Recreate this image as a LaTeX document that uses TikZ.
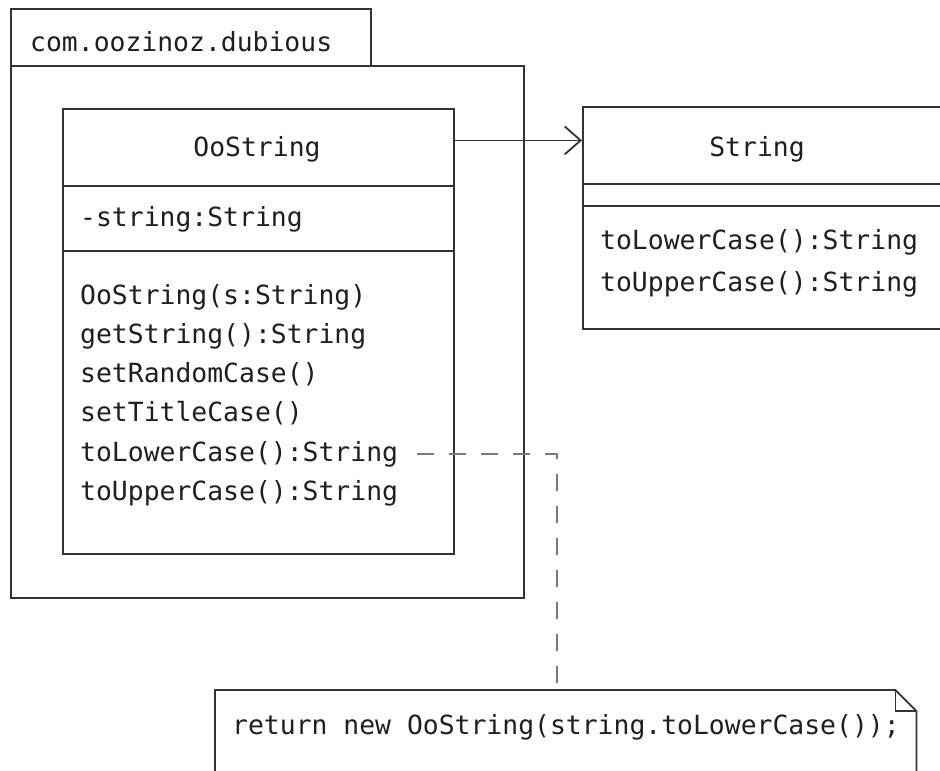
\documentclass[tikz,border=0pt]{standalone}
\usepackage{fontspec}
\newfontfamily\umlfont{DejaVu Sans Mono}
\usetikzlibrary{arrows.meta,calc}
\definecolor{linecol}{HTML}{333333}
\definecolor{dashcol}{HTML}{7A7A7A}
\begin{document}
\begin{tikzpicture}[x=1pt,y=-1pt,
  box/.style={draw=linecol, line width=1.8pt, inner sep=0pt, anchor=north west},
  holder/.style={inner sep=0pt, anchor=north west},
  edge/.style={draw=linecol, line width=1.8pt},
  dashline/.style={draw=dashcol, line width=1.8pt, dash pattern=on 17pt off 15pt},
  txt/.style={font=\umlfont\fontsize{26.4}{30}\selectfont, text=black!88, inner sep=0pt, anchor=base west}]
\useasboundingbox (0,0) rectangle (940,771);
\clip (0,0) rectangle (940,771);
\fill[white] (0,0) rectangle (940,771);

% package
\node[box, minimum width=360pt, minimum height=57pt] (pkgtab) at (10,8) {};
\node[box, minimum width=513pt, minimum height=532pt] (pkgbody) at (10,65) {};
\node[txt] (pkgname) at (30,51) {com.oozinoz.dubious};

% OoString class
\node[box, minimum width=391pt, minimum height=77pt] (ootitle) at (62,108) {};
\node[box, minimum width=391pt, minimum height=65pt] (ooattr) at (62,185) {};
\node[box, minimum width=391pt, minimum height=303pt] (ooops) at (62,250) {};
\node[txt, anchor=base] (ooname) at (257,156) {OoString};
\node[txt] (ooattr1) at (80,226) {-string:String};
\node[txt] (ooop1) at (80,304) {OoString(s:String)};
\node[txt] (ooop2) at (80,343) {getString():String};
\node[txt] (ooop3) at (80,382) {setRandomCase()};
\node[txt] (ooop4) at (80,421) {setTitleCase()};
\node[txt] (ooop5) at (80,461) {toLowerCase():String};
\node[txt] (ooop6) at (80,500) {toUpperCase():String};

% String class
\node[box, minimum width=420pt, minimum height=77pt] (strtitle) at (582,106) {};
\node[box, minimum width=420pt, minimum height=22pt] (strattr) at (582,183) {};
\node[box, minimum width=420pt, minimum height=123pt] (strops) at (582,205) {};
\node[txt, anchor=base] (strname) at (757,156) {String};
\node[txt] (strop1) at (600,249) {toLowerCase():String};
\node[txt] (strop2) at (600,291) {toUpperCase():String};

% association
\draw[edge, -{Straight Barb[length=16pt,width=28pt]}]
  ([yshift=7pt]ootitle.east) -- ([yshift=7pt]ootitle.east -| strtitle.west);

% note
\node[holder, minimum width=701pt, minimum height=110pt] (note) at (215,690) {};
\draw[edge] (note.south west) -- (note.north west) -- ([xshift=-21pt]note.north east)
  -- ([yshift=-21pt]note.north east) -- (note.south east);
\draw[edge] ([xshift=-21pt]note.north east) -- ([xshift=-21pt,yshift=-21pt]note.north east)
  -- ([yshift=-21pt]note.north east);
\node[txt] (notetext) at (232,734) {return new OoString(string.toLowerCase());};

% note anchor
\coordinate (notejoin) at ($(note.north west)+(342,0)$);
\draw[dashline] ([xshift=19pt]ooop5.east) -| (notejoin);
\end{tikzpicture}
\end{document}
